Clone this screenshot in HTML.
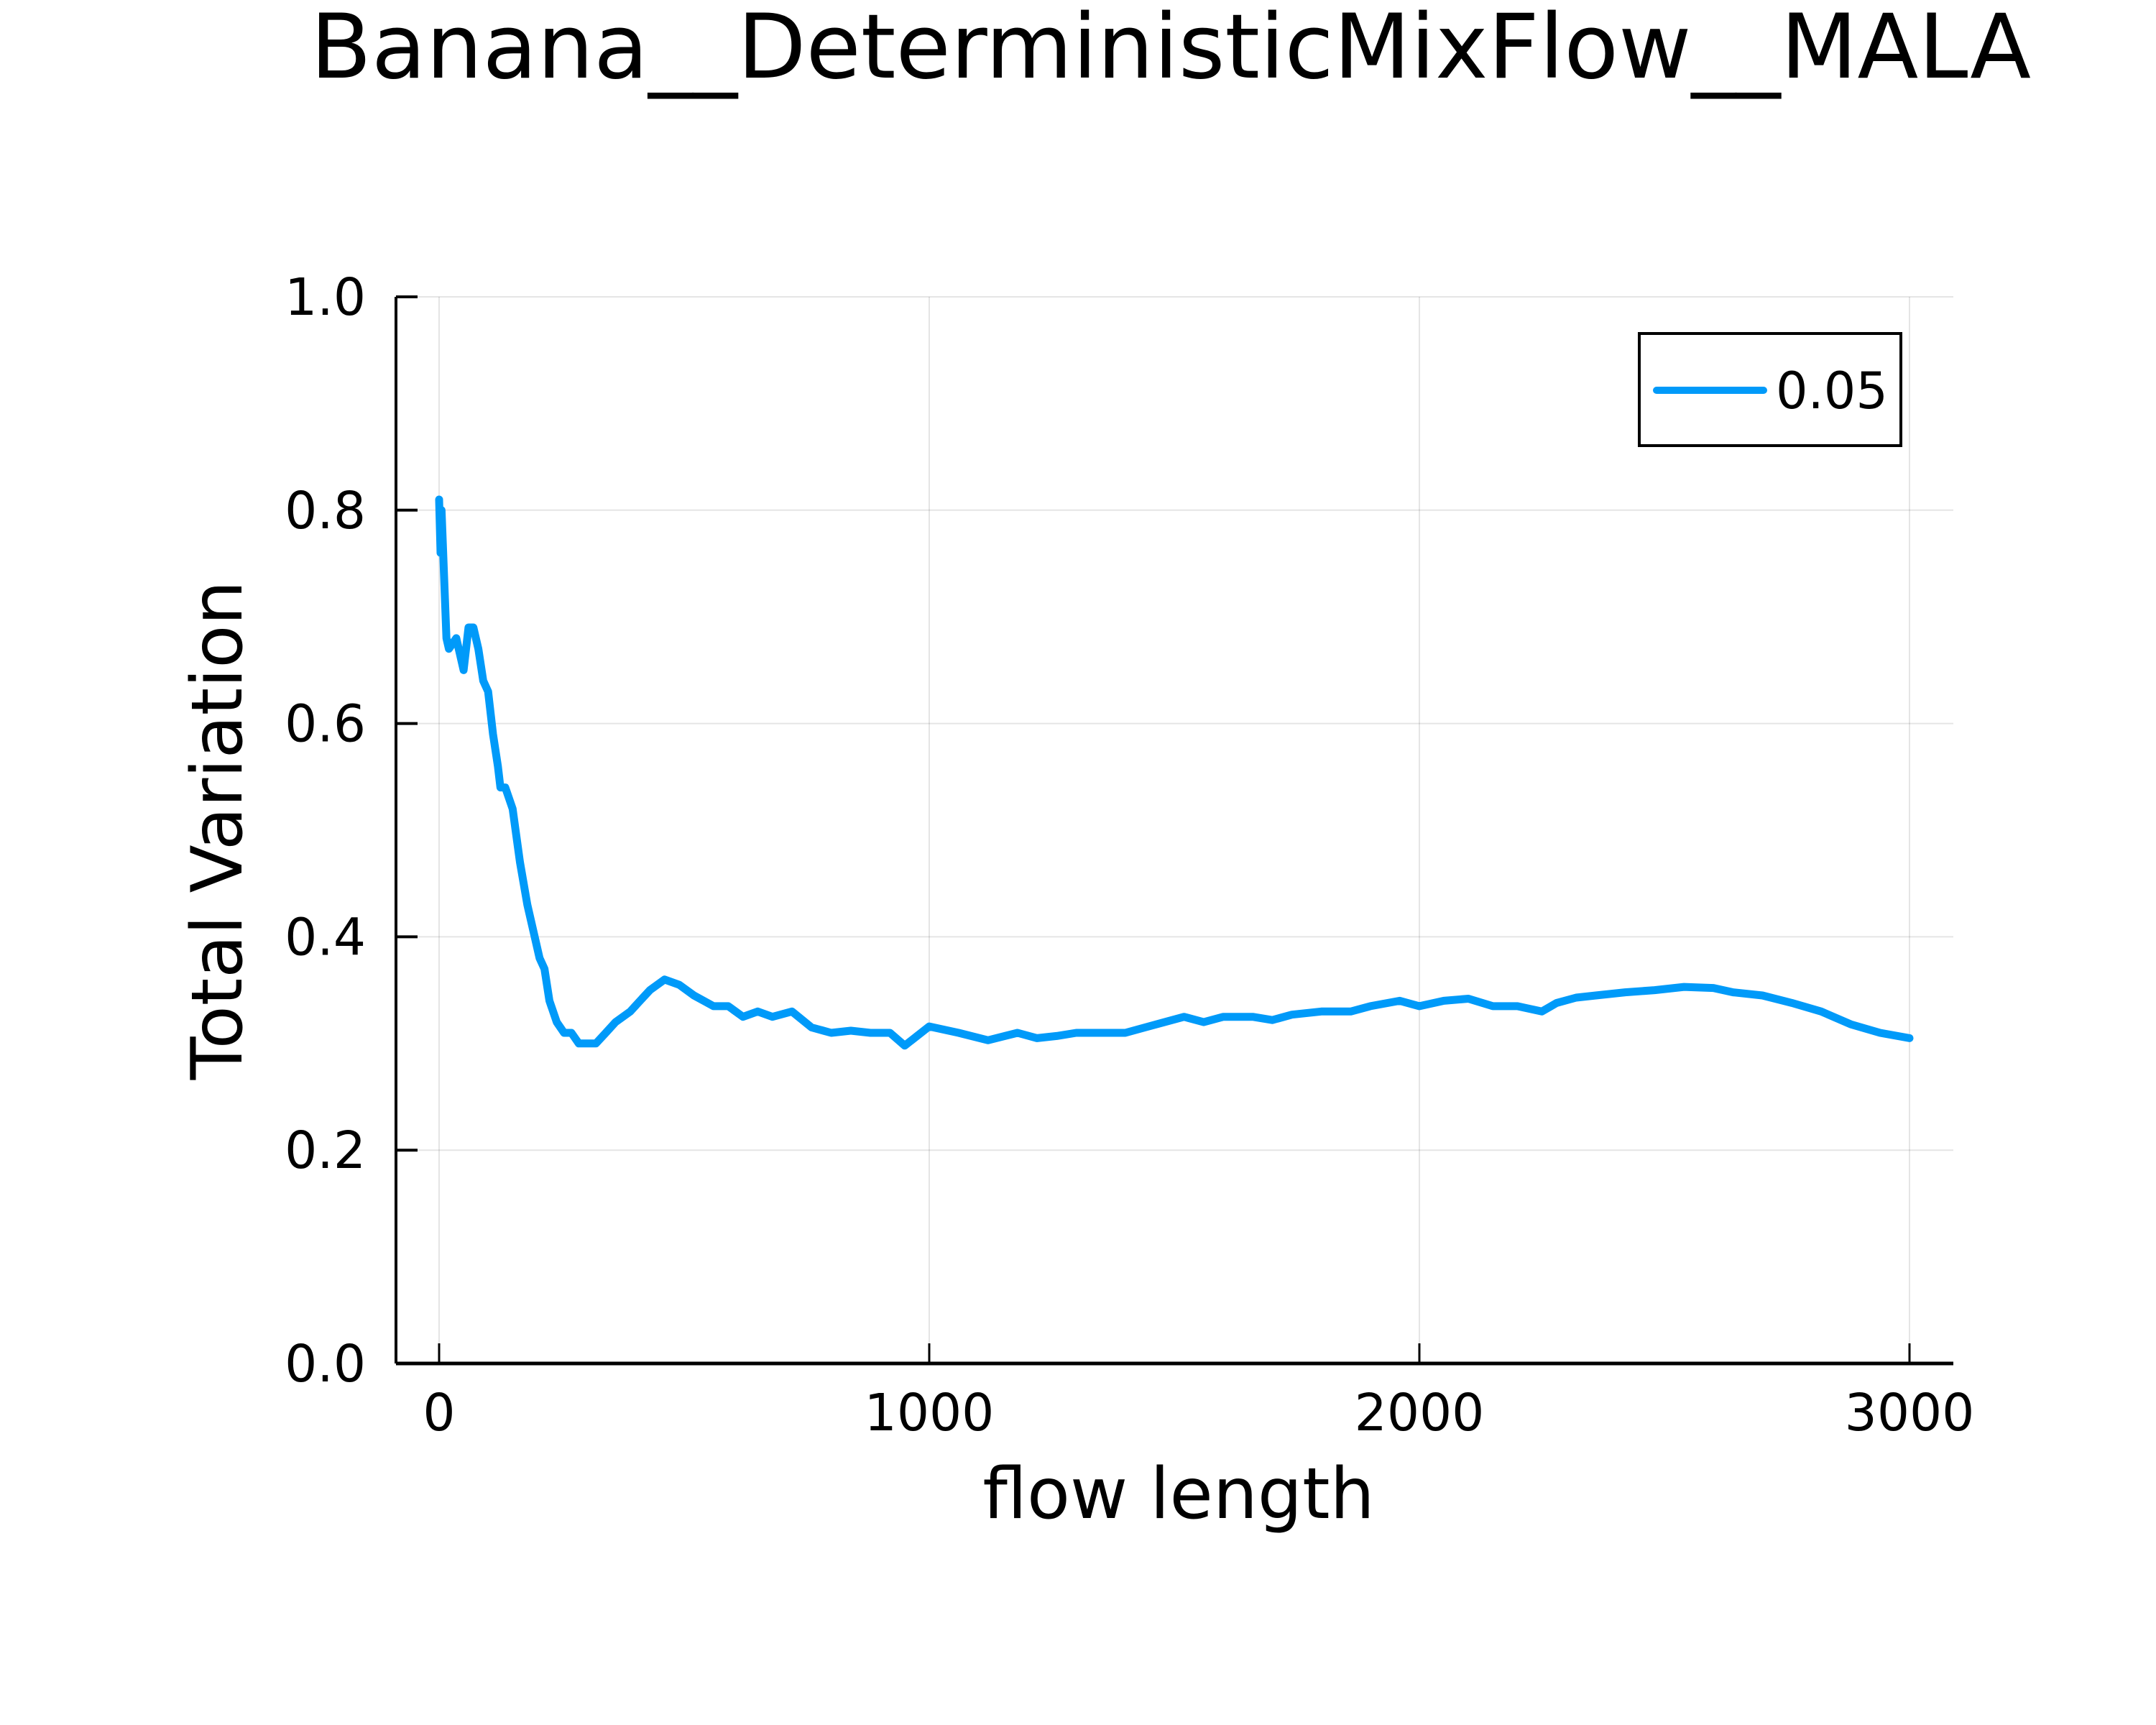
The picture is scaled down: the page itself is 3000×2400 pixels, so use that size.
<!DOCTYPE html>
<html><head><meta charset="utf-8"><style>
html,body{margin:0;padding:0;background:#fff;}
svg{display:block;font-family:"DejaVu Sans","Liberation Sans",sans-serif;}
</style></head><body>
<svg id="chart" width="3000" height="2400" viewBox="0 0 3000 2400" xmlns="http://www.w3.org/2000/svg">
<rect width="3000" height="2400" fill="#fff"/>
<text x="1629" y="108" font-size="124" text-anchor="middle">Banana__DeterministicMixFlow__MALA</text>
<g id="grid"></g>
<g id="axes"></g>
<g id="series"></g>
<text x="1640" y="2112" font-size="98" text-anchor="middle">flow length</text>
<text transform="translate(336,1155) rotate(-90)" font-size="98" text-anchor="middle">Total Variation</text>
<g>
<rect x="2281" y="464" width="364" height="156" fill="#fff" stroke="#000" stroke-width="4"/>
<line x1="2305" y1="543" x2="2454" y2="543" stroke="#009af9" stroke-width="10" stroke-linecap="round"/>
<text x="2471" y="568" font-size="70">0.05</text>
</g>
</svg>
<script>
const xTicks=[0,1000,2000,3000];
const yTicks=[0,0.2,0.4,0.6,0.8,1.0];
const yTickLabels=["0.0","0.2","0.4","0.6","0.8","1.0"];
const xs=[0,3,5,15,20,35,45,50,60,70,80,90,100,110,120,125,135,150,165,180,195,205,215,225,240,255,270,285,300,320,340,360,390,410,430,460,490,520,560,590,620,650,680,720,760,800,840,880,920,950,1000,1060,1120,1180,1220,1260,1300,1340,1400,1440,1480,1520,1560,1600,1660,1700,1740,1800,1860,1900,1960,2000,2050,2100,2150,2200,2250,2280,2320,2360,2420,2480,2540,2600,2640,2700,2760,2820,2880,2940,3000];
const ys=[0.81,0.76,0.80,0.68,0.67,0.68,0.66,0.65,0.69,0.69,0.67,0.64,0.63,0.59,0.56,0.54,0.54,0.52,0.47,0.43,0.40,0.38,0.37,0.34,0.32,0.31,0.31,0.30,0.30,0.30,0.31,0.32,0.33,0.34,0.35,0.36,0.355,0.345,0.335,0.335,0.325,0.33,0.325,0.33,0.315,0.31,0.312,0.31,0.31,0.298,0.316,0.31,0.303,0.31,0.305,0.307,0.31,0.31,0.31,0.315,0.32,0.325,0.32,0.325,0.325,0.322,0.327,0.33,0.33,0.335,0.34,0.335,0.34,0.342,0.335,0.335,0.33,0.338,0.343,0.345,0.348,0.35,0.353,0.352,0.348,0.345,0.338,0.33,0.318,0.31,0.305];
const L=551,R=2718,T=413,B=1897;
const sx=v=>611+(v/3000)*(2657-611);
const sy=v=>B-(v/1)*(B-T);
const NS="http://www.w3.org/2000/svg";
function mk(tag,attrs,parent){const e=document.createElementNS(NS,tag);for(const k in attrs)e.setAttribute(k,attrs[k]);parent.appendChild(e);return e;}
const grid=document.getElementById('grid'),axes=document.getElementById('axes'),series=document.getElementById('series');
xTicks.forEach(t=>{
 const g=mk('line',{x1:sx(t),x2:sx(t),y1:T,y2:B,stroke:'#000','stroke-opacity':0.1,'stroke-width':2},grid);
 
 
 const tk=mk('line',{x1:sx(t),x2:sx(t),y1:B,y2:B-28,stroke:'#000','stroke-width':3},axes);
 
 
 const lb=mk('text',{x:sx(t),y:B+93,'font-size':71,'text-anchor':'middle'},axes);
 lb.textContent=String(t);
 
 
});
yTicks.forEach((t,i)=>{
 const g=mk('line',{x1:L,x2:R,y1:sy(t),y2:sy(t),stroke:'#000','stroke-opacity':0.1,'stroke-width':2},grid);
 
 
 const tk=mk('line',{x1:L,x2:L+30,y1:sy(t),y2:sy(t),stroke:'#000','stroke-width':4},axes);
 
 
 const lb=mk('text',{x:L-42,y:sy(t)+25,'font-size':71,'text-anchor':'end'},axes);
 lb.textContent=yTickLabels[i];
 
 
});
const xa=mk('line',{x1:L,x2:R,y1:B,y2:B,stroke:'#000','stroke-width':5},axes);


const ya=mk('line',{x1:L,x2:L,y1:T,y2:B,stroke:'#000','stroke-width':4},axes);


const d=xs.map((x,i)=>(i?'L':'M')+sx(x).toFixed(1)+','+sy(ys[i]).toFixed(1)).join(' ');
const p=mk('path',{d:d,fill:'none',stroke:'#009af9','stroke-width':11,'stroke-linejoin':'round','stroke-linecap':'round'},series);


</script>
</body></html>
